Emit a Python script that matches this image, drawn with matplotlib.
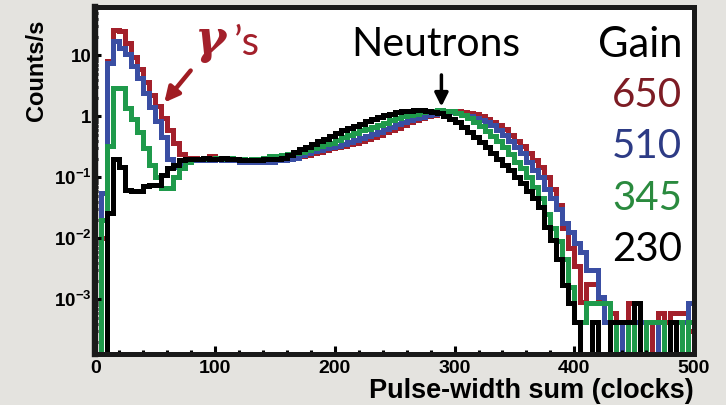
#!/usr/bin/env python3
# Pulse-width sum spectra for four PMT gains (log scale), gamma and neutron regions marked

import numpy as np
import matplotlib
matplotlib.use('Agg')
import matplotlib.pyplot as plt
from matplotlib.ticker import FixedLocator, MultipleLocator, LogLocator, NullFormatter

plt.rcParams.update({
    'font.family': ['Liberation Sans', 'DejaVu Sans'],
    'mathtext.fontset': 'custom',
    'mathtext.rm': 'Liberation Sans',
    'mathtext.bf': 'Liberation Sans:bold',
})

# bin edges in clocks, 5-clock bins
edges = np.arange(0, 505, 5)

gain_labels = ['650', '510', '345', '230']

# counts/s per bin, one list per gain
rate_650 = [
    0, 0.01, 8.0, 26, 25, 16, 9.5, 5.9, 3.6, 2.2,
    1.45, 0.95, 0.6, 0.36, 0.24, 0.21, 0.21, 0.2, 0.21, 0.22,
    0.21, 0.2, 0.21, 0.2, 0.2, 0.19, 0.19, 0.19, 0.19, 0.19,
    0.19, 0.19, 0.2, 0.21, 0.22, 0.23, 0.25, 0.26, 0.28, 0.3,
    0.31, 0.33, 0.35, 0.37, 0.4, 0.43, 0.46, 0.5, 0.55, 0.59,
    0.65, 0.73, 0.8, 0.86, 0.93, 1.0, 1.07, 1.14, 1.18, 1.2,
    1.2, 1.17, 1.14, 1.1, 1.02, 0.92, 0.82, 0.72, 0.63, 0.5,
    0.4, 0.33, 0.25, 0.19, 0.145, 0.1, 0.065, 0.035, 0.0146, 0.007,
    0.0035, 0.0009, 0.0018, 0.0018, 0.0009, 0.00043, 0.0006, 0.00043, 0.00043, 0.00087,
    0, 0.00043, 0.00043, 0, 0.0006, 0.00043, 0.0006, 0.0006, 0.0006, 0.0003,
]
rate_510 = [
    0, 0.055, 7.4, 17, 13, 10.5, 6.8, 4.2, 2.4, 1.4,
    0.85, 0.45, 0.2, 0.15, 0.16, 0.18, 0.19, 0.19, 0.19, 0.19,
    0.2, 0.19, 0.19, 0.19, 0.18, 0.18, 0.18, 0.18, 0.18, 0.18,
    0.19, 0.19, 0.2, 0.21, 0.23, 0.25, 0.27, 0.28, 0.3, 0.31,
    0.33, 0.35, 0.38, 0.41, 0.44, 0.47, 0.51, 0.56, 0.61, 0.67,
    0.74, 0.82, 0.88, 0.94, 0.99, 1.05, 1.1, 1.16, 1.19, 1.17,
    1.12, 1.07, 1.01, 0.95, 0.87, 0.8, 0.71, 0.6, 0.5, 0.4,
    0.31, 0.25, 0.18, 0.13, 0.1, 0.065, 0.045, 0.03, 0.018, 0.0125,
    0.0083, 0.006, 0.003, 0.003, 0.0011, 0.00043, 0, 0.00043, 0, 0.00043,
    0.00043, 0.00043, 0, 0, 0.00043, 0, 0, 0.00043, 0.00043, 0.00087,
]
rate_345 = [
    0, 0.02, 0.33, 2.9, 2.9, 1.35, 0.9, 0.55, 0.3, 0.16,
    0.1, 0.066, 0.066, 0.1, 0.14, 0.18, 0.2, 0.2, 0.2, 0.2,
    0.21, 0.2, 0.21, 0.2, 0.2, 0.19, 0.2, 0.2, 0.21, 0.22,
    0.22, 0.23, 0.24, 0.25, 0.26, 0.28, 0.3, 0.33, 0.35, 0.37,
    0.41, 0.45, 0.49, 0.54, 0.59, 0.63, 0.68, 0.73, 0.78, 0.86,
    0.93, 1.0, 1.06, 1.11, 1.16, 1.2, 1.23, 1.25, 1.24, 1.2,
    1.13, 1.04, 0.93, 0.82, 0.7, 0.58, 0.48, 0.39, 0.31, 0.24,
    0.18, 0.14, 0.1, 0.07, 0.045, 0.025, 0.015, 0.009, 0.0045, 0.0016,
    0.00043, 0.00043, 0.00087, 0.00087, 0.00087, 0.00087, 0.00043, 0, 0, 0.00043,
    0, 0, 0.00043, 0.00043, 0.00043, 0, 0.00043, 0.00043, 0, 0.00043,
]
rate_230 = [
    0, 0, 0.026, 0.2, 0.15, 0.062, 0.06, 0.06, 0.072, 0.074,
    0.076, 0.11, 0.14, 0.16, 0.19, 0.2, 0.2, 0.2, 0.21, 0.2,
    0.2, 0.21, 0.2, 0.2, 0.19, 0.19, 0.19, 0.19, 0.2, 0.2,
    0.2, 0.21, 0.23, 0.26, 0.29, 0.32, 0.35, 0.39, 0.43, 0.48,
    0.53, 0.6, 0.64, 0.7, 0.76, 0.84, 0.92, 0.98, 1.04, 1.1,
    1.16, 1.2, 1.24, 1.26, 1.26, 1.24, 1.19, 1.12, 1.03, 0.92,
    0.8, 0.68, 0.56, 0.46, 0.38, 0.31, 0.25, 0.2, 0.16, 0.13,
    0.1, 0.08, 0.06, 0.046, 0.033, 0.0153, 0.0093, 0.0045, 0.0017, 0.00087,
    0.00043, 0, 0, 0.00043, 0, 0, 0.00043, 0.00043, 0.00043, 0.00043,
    0.00087, 0, 0, 0, 0, 0, 0.00043, 0, 0, 0,
]

ytick_vals = [1e-3, 1e-2, 1e-1, 1, 10]
ytick_text = [r'$\mathbf{10^{-3}}$', r'$\mathbf{10^{-2}}$', r'$\mathbf{10^{-1}}$', '1', '10']

line_colors = ['#a3202b', '#3a4ea3', '#1f9a4b', '#000000']
label_colors = ['#7d1c24', '#2d3b85', '#2a8a3e', '#000000']

fig = plt.figure(figsize=(7.26, 4.05), dpi=100, facecolor='#e4e3df')
ax = fig.add_axes([0.1315, 0.1259, 0.8244, 0.8556])
ax.set_facecolor('white')

for vals, col in zip([rate_650, rate_510, rate_345, rate_230], line_colors):
    ax.stairs(vals, edges, baseline=None, color=col, lw=3.6, joinstyle='miter')

ax.set_yscale('log', nonpositive='clip')
ax.set_xlim(0, 500)
ax.set_ylim(1.27e-4, 60.8)

ax.xaxis.set_major_locator(MultipleLocator(100))
ax.xaxis.set_minor_locator(MultipleLocator(20))
ax.yaxis.set_major_locator(FixedLocator(ytick_vals))
ax.yaxis.set_minor_locator(LogLocator(base=10, subs=np.arange(2, 10)))
ax.yaxis.set_minor_formatter(NullFormatter())
ax.set_yticklabels(ytick_text)
for lab in ax.get_xticklabels() + ax.get_yticklabels():
    lab.set_fontweight('bold')
ax.tick_params(axis='x', which='both', direction='in', top=False, labelsize=14, pad=4, width=2.2)
ax.tick_params(axis='x', which='major', length=6)
ax.tick_params(axis='x', which='minor', length=3)
ax.tick_params(axis='y', which='both', direction='in', right=False, labelsize=13.5, pad=3, width=2.2)
ax.tick_params(axis='y', which='major', length=4)
ax.tick_params(axis='y', which='minor', length=2.5)
for sp in ax.spines.values():
    sp.set_linewidth(3.6)
    sp.set_color('#1a1a1a')
ax.spines['left'].set_linewidth(4.6)

fig.text(37 / 726, 1 - 70 / 405, 'Counts/s', rotation=90, ha='center', va='center',
         fontsize=17, fontweight='bold')
fig.text(694 / 726, 1 - 391 / 405, 'Pulse-width sum (clocks)', ha='right', va='center',
         fontsize=19.5, fontweight='bold')

# gain key on the right
ax.text(0.98, 0.893, 'Gain', transform=ax.transAxes, ha='right', va='center',
        fontsize=30, family='Lato')
for i, (lab, col) in enumerate(zip(gain_labels, label_colors)):
    ax.text(0.98, 0.746 - i * 0.148, lab, transform=ax.transAxes, ha='right', va='center',
            fontsize=29, family='Lato', color=col)

# neutron peak
ax.text(0.568, 0.893, 'Neutrons', transform=ax.transAxes, ha='center', va='center',
        fontsize=29.5, family='Lato')
ax.annotate('', xy=(289, 1.3), xytext=(289, 5.3),
            arrowprops=dict(arrowstyle='-|>', color='black', lw=2.5, mutation_scale=20))

# gamma region
ax.text(0.166, 0.905, 'γ', transform=ax.transAxes, ha='left', va='center',
        fontsize=34, family='DejaVu Serif', style='italic', fontweight='bold',
        color='#a3202b')
ax.text(0.232, 0.895, '’s', transform=ax.transAxes, ha='left', va='center',
        fontsize=29, family='Lato', color='#a3202b')
ax.annotate('', xy=(56, 1.55), xytext=(81, 6.1),
            arrowprops=dict(arrowstyle='-|>', color='#a01c22', lw=3.2, mutation_scale=22))

plt.savefig('out.png', dpi=100, facecolor=fig.get_facecolor())
plt.close()
